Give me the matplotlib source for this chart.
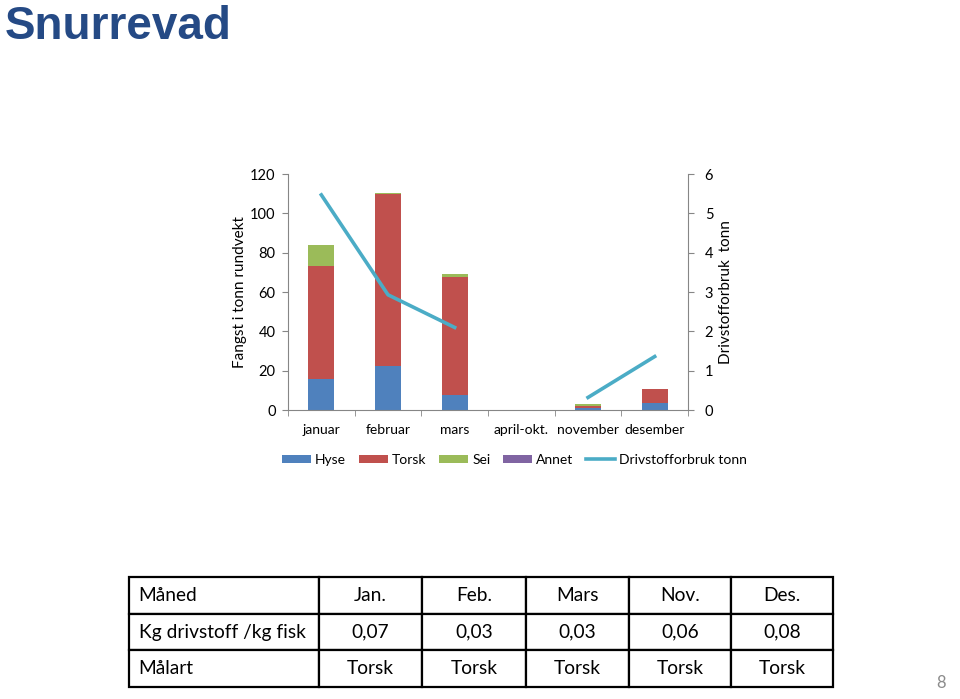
import numpy as np
import matplotlib.pyplot as plt

plt.rcParams['font.family'] = ['Lato', 'DejaVu Sans']

maneder = ['januar', 'februar', 'mars', 'april-okt.', 'november', 'desember']
hyse = [16, 22.5, 7.5, 0, 1.0, 3.5]
torsk = [57, 87.3, 60, 0, 1.2, 7.3]
sei = [11, 0.6, 1.5, 0, 0.8, 0]
annet = [0, 0, 0, 0, 0, 0]
drivstoff = [5.47, 2.93, 2.10, np.nan, 0.32, 1.36]

tab_hode = ['Måned', 'Jan.', 'Feb.', 'Mars', 'Nov.', 'Des.']
tab_rader = [['Kg drivstoff /kg fisk', '0,07', '0,03', '0,03', '0,06', '0,08'],
             ['Målart', 'Torsk', 'Torsk', 'Torsk', 'Torsk', 'Torsk']]

grey = '#868686'
fig = plt.figure(figsize=(9.6, 6.99), dpi=100)
fig.text(0.005, 0.944, 'Snurrevad', family='Liberation Sans', fontweight='bold',
         fontsize=33, color='#254A85', va='baseline', ha='left')

ax = fig.add_axes([0.3, 0.4134, 0.4167, 0.3376])
x = np.arange(len(maneder))
w = 0.39
b1 = ax.bar(x, hyse, w, color='#4F81BD', label='Hyse')
bot = np.array(hyse)
b2 = ax.bar(x, torsk, w, bottom=bot, color='#C0504D', label='Torsk')
bot = bot + np.array(torsk)
b3 = ax.bar(x, sei, w, bottom=bot, color='#9BBB59', label='Sei')
bot = bot + np.array(sei)
b4 = ax.bar(x, annet, w, bottom=bot, color='#8064A2', label='Annet')

ax.set_xlim(-0.5, 5.5)
ax.set_ylim(0, 120)
ax.set_yticks(range(0, 121, 20))
ax.set_xticks(x)
ax.set_xticklabels(maneder, fontsize=10)
ax.set_xticks(np.arange(-0.5, 6, 1), minor=True)
ax.tick_params(axis='x', which='major', length=0, pad=10)
ax.tick_params(axis='x', which='minor', length=4, color=grey)
ax.tick_params(axis='y', length=4, color=grey, labelsize=10.5, pad=5)
ax.set_ylabel('Fangst i tonn rundvekt', fontsize=11)
ax.yaxis.set_label_coords(-0.103, 0.5)
for s in ['left', 'bottom']:
    ax.spines[s].set_color(grey)
ax.spines['top'].set_visible(False)
ax.spines['right'].set_visible(False)

ax2 = ax.twinx()
l1, = ax2.plot(x, drivstoff, color='#4BACC6', lw=2.6, label='Drivstofforbruk tonn')
ax2.set_ylim(0, 6)
ax2.set_yticks(range(0, 7))
ax2.tick_params(axis='y', length=4, color=grey, labelsize=10.5, pad=8)
ax2.set_ylabel('Drivstofforbruk  tonn', fontsize=11)
ax2.yaxis.set_label_coords(1.078, 0.5)
ax2.spines['right'].set_color(grey)
for s in ['top', 'left', 'bottom']:
    ax2.spines[s].set_visible(False)

fig.legend([b1, b2, b3, b4, l1], ['Hyse', 'Torsk', 'Sei', 'Annet', 'Drivstofforbruk tonn'],
           loc='center', bbox_to_anchor=(0.536, 0.342), ncol=5, frameon=False,
           fontsize=10, handlelength=2.1, handleheight=0.6, handletextpad=0.3,
           columnspacing=0.9)

tax = fig.add_axes([0.1344, 0.0172, 0.7333, 0.157])
tax.axis('off')
bredder = np.array([190, 103, 104, 103, 102, 102]) / 704
tbl = tax.table(cellText=[tab_hode] + tab_rader, colWidths=bredder,
                bbox=[0, 0, 1, 1], cellLoc='center')
tbl.auto_set_font_size(False)
for (r, c), cell in tbl.get_celld().items():
    cell.set_linewidth(1.6)
    cell.set_edgecolor('black')
    cell.get_text().set_fontsize(13.8)
    if c == 0:
        cell.get_text().set_ha('left')
        cell.PAD = 0.05

fig.text(0.985, 0.012, '8', fontsize=12, color='#8C8C8C', ha='right', va='bottom')

fig.savefig('out.png', dpi=100)
